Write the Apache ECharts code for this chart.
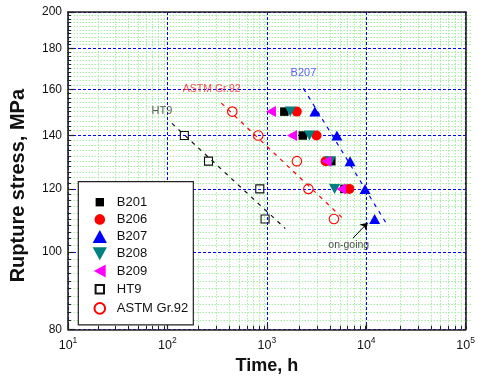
<!DOCTYPE html>
<html><head><meta charset="utf-8">
<script src="https://cdn.jsdelivr.net/npm/echarts@6/dist/echarts.min.js"></script>
<style>html,body{margin:0;padding:0;background:#fff}#c{width:478px;height:381px}</style>
</head><body><div id="c"></div>
<script>
const FONT = '"Liberation Sans", Arial, Helvetica, sans-serif';

// ---- data (time h, stress MPa) ----
const b201Time = [1500, 2300, 4450, 6030];
const b201Stress = [150, 140, 130, 120];
const b206Time = [2000, 3160, 3900, 6760];
const b206Stress = [150, 140, 130, 120];
const b207Time = [3040, 5070, 6870, 9730, 12140];
const b207Stress = [150, 140, 130, 120, 110];
const b208Time = [1720, 2680, 4350, 4800];
const b208Stress = [150, 140, 130, 120];
const b209Time = [1100, 1790, 3970, 5590];
const b209Stress = [150, 140, 130, 120];
const ht9Time = [148, 259, 849, 960];
const ht9Stress = [140, 130, 120, 110];
const astmTime = [449, 819, 2005, 2617, 4730];
const astmStress = [150, 140, 130, 120, 110];

// trend lines (dashed)
const ht9Trend = [[111, 145], [1535, 107]];
const astmTrend = [[349, 153.7], [6100, 109.6]];
const b207Trend = [[2334, 160.4], [16220, 108.2]];

// annotations
const noteHT9 = [88, 150.3];
const noteASTM = [279, 160.1];
const noteB207 = [2334, 167.9];
const noteOngoing = [6670, 102.1];
const arrowFrom = [7345, 104.1];
const arrowTo = [10350, 108.8];

// ticks
const xMajor = [10, 100, 1000, 10000, 100000];
const yMajor = [80, 100, 120, 140, 160, 180, 200];
const xMinor = [];
[10, 100, 1000, 10000].forEach(d => { for (let k = 2; k <= 9; k++) xMinor.push(d * k); });
const yMinor = [];
for (let v = 82; v < 200; v += 2) if (yMajor.indexOf(v) < 0) yMinor.push(v);

const zip = (xs, ys) => xs.map((x, i) => [x, ys[i]]);

const UP_TRI = 'path://M5.5,0 L11,10 L0,10 Z';
const DOWN_TRI = 'path://M0,0 L11,0 L5.5,10 Z';
const LEFT_TRI = 'path://M0,5.5 L10,0 L10,11 Z';
const SMALL_SQ = 'path://M0,0 M13,13 M2.3,2.3 L10.7,2.3 L10.7,10.7 L2.3,10.7 Z';
const SMALL_CIRC = 'path://M0,0 M13,13 M1.2,6.5 A5.3,5.3 0 1 1 11.8,6.5 A5.3,5.3 0 1 1 1.2,6.5 Z';

const box = { left: 67.5, top: 12, width: 403.5, height: 317.3 };
const frameLine = { show: true, lineStyle: { color: '#222', width: 1.6 } };

function scatter(name, xs, ys, symbol, size, color, hollow) {
  return {
    name, type: 'scatter', xAxisIndex: 0, yAxisIndex: 0, z: 5,
    symbol, symbolSize: size,
    itemStyle: hollow
      ? { color: 'transparent', borderColor: color, borderWidth: 1.1, opacity: 1 }
      : { color: color, opacity: 1 },
    emphasis: { disabled: true },
    data: zip(xs, ys)
  };
}
function trend(data, color) {
  return {
    type: 'line', xAxisIndex: 0, yAxisIndex: 0, z: 4, symbol: 'none', silent: true,
    lineStyle: { color, width: 1.2, type: [4, 5] }, data
  };
}
function note(pos, text, color, size) {
  return { value: pos, label: { formatter: text, color, fontSize: size } };
}

const option = {
  animation: false,
  backgroundColor: '#fff',
  textStyle: { fontFamily: FONT },
  grid: [Object.assign({}, box), Object.assign({}, box)],
  xAxis: [
    {
      gridIndex: 0, type: 'log', logBase: 10, min: 10, max: 100000, position: 'bottom', z: 3,
      name: 'Time, h', nameLocation: 'middle', nameGap: 28,
      nameTextStyle: { fontSize: 18, fontWeight: 'bold', color: '#111', fontFamily: FONT },
      axisLine: frameLine,
      axisTick: { show: true, inside: true, length: 6, customValues: xMajor, lineStyle: { color: '#222', width: 1.2 } },
      axisLabel: {
        customValues: xMajor, margin: 7,
        formatter: v => '{b|10}{s|' + Math.round(Math.log10(v)) + '}',
        rich: {
          b: { fontSize: 12.5, color: '#111', fontFamily: FONT, verticalAlign: 'bottom', lineHeight: 16 },
          s: { fontSize: 8.5, color: '#111', fontFamily: FONT, verticalAlign: 'top', lineHeight: 16 }
        }
      },
      splitLine: { show: true, lineStyle: { color: '#0000ff', width: 1, type: [3, 2] } },
      minorTick: { show: false }, minorSplitLine: { show: false }
    },
    {
      gridIndex: 0, type: 'log', logBase: 10, min: 10, max: 100000, position: 'top', z: 3,
      axisLine: frameLine, axisTick: { show: false }, axisLabel: { show: false }, splitLine: { show: false }
    },
    {
      gridIndex: 1, type: 'log', logBase: 10, min: 10, max: 100000, position: 'bottom', z: 1,
      axisLine: { show: false },
      axisTick: { show: true, inside: true, length: 3.5, customValues: xMinor, lineStyle: { color: '#222', width: 1 } },
      axisLabel: { show: false },
      splitLine: { show: true, lineStyle: { color: '#a6eea6', width: 1, type: [1.5, 1.5] } }
    }
  ],
  yAxis: [
    {
      gridIndex: 0, type: 'log', logBase: 10, min: 80, max: 200, position: 'left', z: 3,
      name: 'Rupture stress, MPa', nameLocation: 'middle', nameGap: 40,
      nameTextStyle: { fontSize: 20, fontWeight: 'bold', color: '#111', fontFamily: FONT, padding: [0, 30, 0, 0] },
      axisLine: frameLine,
      axisTick: { show: true, inside: true, length: 6, customValues: yMajor, lineStyle: { color: '#222', width: 1.2 } },
      axisLabel: { customValues: yMajor, margin: 6, fontSize: 12, color: '#111', fontFamily: FONT },
      splitLine: { show: true, lineStyle: { color: '#0000ff', width: 1, type: [3, 2] } },
      minorTick: { show: false }, minorSplitLine: { show: false }
    },
    {
      gridIndex: 0, type: 'log', logBase: 10, min: 80, max: 200, position: 'right', z: 3,
      axisLine: frameLine, axisTick: { show: false }, axisLabel: { show: false }, splitLine: { show: false }
    },
    {
      gridIndex: 1, type: 'log', logBase: 10, min: 80, max: 200, position: 'left', z: 1,
      axisLine: { show: false },
      axisTick: { show: true, inside: true, length: 3.5, customValues: yMinor, lineStyle: { color: '#222', width: 1 } },
      axisLabel: { show: false },
      splitLine: { show: true, lineStyle: { color: '#a6eea6', width: 1, type: [1.5, 1.5] } }
    }
  ],
  legend: {
    data: [
      { name: 'B201', icon: SMALL_SQ },
      { name: 'B206', icon: SMALL_CIRC },
      { name: 'B207', icon: UP_TRI },
      { name: 'B208', icon: DOWN_TRI },
      { name: 'B209', icon: LEFT_TRI },
      { name: 'HT9', icon: SMALL_SQ },
      { name: 'ASTM Gr.92', icon: SMALL_CIRC }
    ],
    orient: 'vertical', left: 78.3, top: 181.7,
    padding: [14, 5, 9, 14], itemGap: 4.2, itemWidth: 24, itemHeight: 13,
    textStyle: { fontSize: 13, color: '#111', fontFamily: FONT },
    backgroundColor: '#fff', borderColor: '#222', borderWidth: 1.2, borderRadius: 0,
    selectedMode: false, z: 10
  },
  series: [
    trend(ht9Trend, '#111'),
    trend(astmTrend, '#ff0000'),
    trend(b207Trend, '#0000ff'),
    scatter('B201', b201Time, b201Stress, 'rect', 8.5, '#000000', false),
    scatter('B206', b206Time, b206Stress, 'circle', 10, '#ff0000', false),
    scatter('B207', b207Time, b207Stress, UP_TRI, [11, 10], '#0000ff', false),
    scatter('B208', b208Time, b208Stress, DOWN_TRI, [11, 10], '#008080', false),
    scatter('B209', b209Time, b209Stress, LEFT_TRI, [10, 11], '#ff00ff', false),
    scatter('HT9', ht9Time, ht9Stress, 'rect', 8, '#111111', true),
    scatter('ASTM Gr.92', astmTime, astmStress, 'circle', 9.5, '#ff0000', true),
    {
      type: 'scatter', xAxisIndex: 0, yAxisIndex: 0, z: 6, symbolSize: 0, silent: true,
      label: { show: true, position: 'inside', fontFamily: FONT },
      data: [
        note(noteHT9, 'HT9', '#333333', 11),
        note(noteASTM, 'ASTM Gr.92', '#ff2020', 10.5),
        note(noteB207, 'B207', '#3838ff', 11),
        note(noteOngoing, 'on-going', '#222222', 10.5)
      ],
      markLine: {
        silent: true, symbol: ['none', 'arrow'], symbolSize: 7,
        lineStyle: { color: '#000', width: 1, type: 'solid' },
        label: { show: false },
        data: [[{ coord: arrowFrom }, { coord: arrowTo }]]
      }
    }
  ]
};

const chart = echarts.init(document.getElementById('c'), null, { renderer: 'canvas' });
chart.setOption(option);
</script>
</body></html>
